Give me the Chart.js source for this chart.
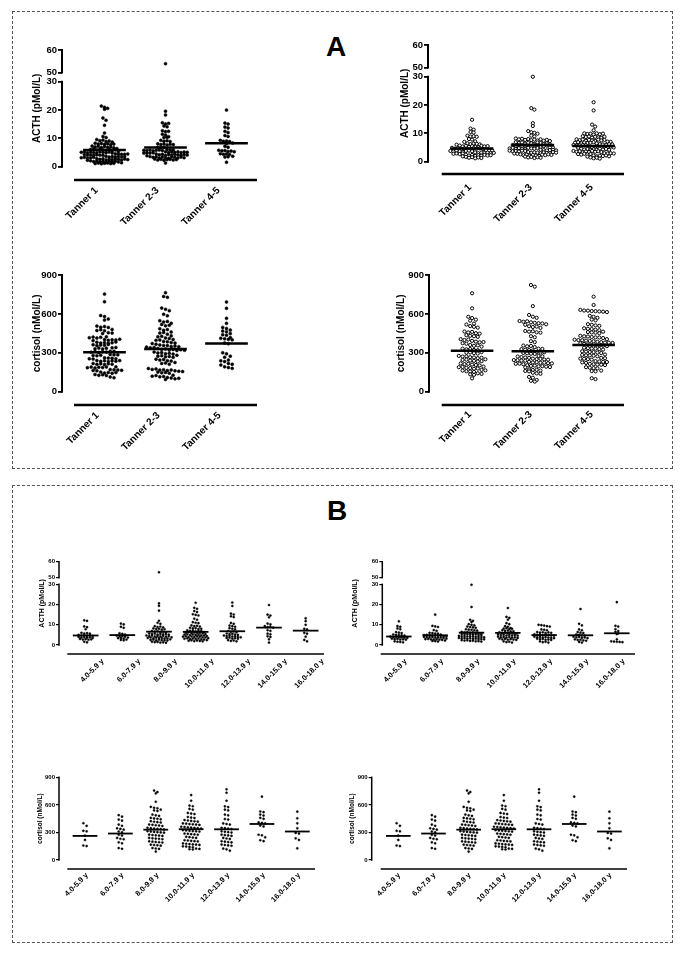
<!DOCTYPE html>
<html lang="en">
<head>
<meta charset="UTF-8" />
<title>ACTH and cortisol by Tanner stage and age</title>
<script src="https://cdn.jsdelivr.net/npm/chart.js@4"></script>
<style>
  body { margin: 0; background: #fff; font-family: "Liberation Sans", Arial, sans-serif; }
  #page { position: relative; width: 685px; height: 955px; }
  .box { position: absolute; border: 1px dashed #555; }
  .tag { position: absolute; font-weight: bold; font-size: 28px; line-height: 1; }
  canvas { position: absolute; }
</style>
</head>
<body>
<div id="page">
  <div class="box" style="left:12px;top:11px;width:659px;height:456px"></div>
  <div class="box" style="left:12px;top:485px;width:659px;height:456px"></div>
  <div class="tag" style="left:326px;top:33px">A</div>
  <div class="tag" style="left:327px;top:497px">B</div>
</div>
<script>
// categories + tick labels
const tannerCats = ['Tanner 1', 'Tanner 2-3', 'Tanner 4-5'];
const ageCats = ['4.0-5.9 y', '6.0-7.9 y', '8.0-9.9 y', '10.0-11.9 y', '12.0-13.9 y', '14.0-15.9 y', '16.0-18.0 y'];
const acthTicks = [0, 10, 20, 30, 50, 60];
const cortTicks = [0, 300, 600, 900];

// A, left: ACTH by Tanner stage
const acthTanL1 = [21.4, 21.0, 20.6, 20.3, 17.2, 16.4, 14.6, 11.9, 10.7, 10.3,
  9.6, 9.2, 9.4, 8.9, 9.1, 8.7, 8.3, 8.0, 8.2, 7.9, 8.1, 7.8, 8.0,
  7.3, 7.0, 7.2, 6.8, 7.1, 6.9, 7.0, 6.7, 6.4, 6.1, 6.3, 5.9, 6.2, 6.0, 5.8, 6.2, 5.7, 6.0,
  5.4, 5.1, 5.3, 4.9, 5.2, 5.0, 4.8, 5.3, 5.1, 4.9, 5.2, 4.8,
  4.6, 4.3, 4.5, 4.1, 4.4, 4.2, 4.0, 4.4, 4.2, 4.1, 4.5, 4.0,
  3.7, 3.4, 3.6, 3.2, 3.5, 3.3, 3.1, 3.6, 3.4, 3.2, 3.5, 3.3,
  2.9, 2.6, 2.8, 2.4, 2.7, 2.5, 2.3, 2.8, 2.6, 2.4, 2.7, 2.5,
  2.1, 1.8, 2.0, 1.7, 1.9, 1.6, 2.0, 1.8, 1.9, 1.7, 1.4, 1.1, 1.3, 1.0, 1.2, 1.3, 1.1, 1.2];
const acthTanL23 = [53.9, 19.6, 18.3, 15.5, 15.1, 15.3, 14.4, 14.1, 12.7, 12.4, 12.5, 11.5, 11.2, 10.6, 10.3, 10.4,
  9.3, 9.0, 9.2, 8.9, 8.1, 7.8, 8.0, 7.7, 7.9, 7.8, 6.9, 6.7, 6.8,
  6.1, 5.8, 6.0, 5.7, 5.9, 5.6, 6.0, 5.8, 5.9, 5.7,
  5.3, 5.0, 5.2, 4.8, 5.1, 4.9, 5.3, 5.0, 5.2, 4.8, 5.1, 4.9,
  4.5, 4.2, 4.4, 4.0, 4.3, 4.1, 3.9, 4.4, 4.2, 4.0, 4.3, 4.1,
  3.6, 3.3, 3.5, 3.1, 3.4, 3.2, 3.0, 3.5, 3.3, 3.1, 3.4, 3.2,
  2.7, 2.4, 2.6, 2.3, 2.5, 2.6, 2.4, 2.5, 1.3];
const acthTanL45 = [20.0, 15.4, 15.1, 14.0, 13.7, 12.5, 12.1, 11.0, 10.7,
  9.3, 9.0, 9.1, 8.9, 8.4, 8.2, 7.2, 6.9, 5.8, 5.6, 5.7, 5.4, 5.5, 5.3,
  4.6, 4.4, 4.5, 4.3, 3.7, 3.4, 3.5, 1.6];
const acthTanLMeans = [5.9, 6.8, 8.3];

// A, right: ACTH by Tanner stage
const acthTanR1 = [14.8, 11.7, 11.3, 10.5, 10.3, 9.2, 8.9, 9.0, 8.8, 8.0, 7.8, 7.2, 7.0,
  6.5, 6.2, 6.4, 6.0, 6.3, 6.1, 5.7, 5.4, 5.6, 5.2, 5.5, 5.3, 5.1, 5.6, 5.4, 5.5,
  4.9, 4.6, 4.8, 4.4, 4.7, 4.5, 4.3, 4.8, 4.6, 4.7, 4.5,
  4.1, 3.8, 4.0, 3.6, 3.9, 3.7, 3.5, 4.0, 3.8, 3.9, 3.7,
  3.3, 3.0, 3.2, 2.8, 3.1, 2.9, 2.7, 3.2, 3.0, 3.1, 2.9,
  2.5, 2.2, 2.4, 2.0, 2.3, 2.1, 1.9, 2.4, 2.2, 2.3, 1.7, 1.4, 1.6, 1.2, 1.5, 1.3];
const acthTanR23 = [30.0, 18.9, 18.4, 13.6, 12.6, 10.8, 10.4, 10.2, 9.9, 9.2, 8.9,
  8.2, 7.9, 8.1, 7.7, 8.0, 7.6, 7.8, 7.5, 7.9, 7.4, 7.7, 7.3,
  6.9, 6.6, 6.8, 6.4, 6.7, 6.5, 6.3, 6.8, 6.6, 6.2, 6.5, 6.1,
  5.9, 5.6, 5.8, 5.4, 5.7, 5.5, 5.3, 5.8, 5.6, 5.2, 5.5, 5.7,
  5.0, 4.7, 4.9, 4.5, 4.8, 4.6, 4.4, 4.9, 4.7, 4.6, 4.8, 5.0,
  4.2, 3.9, 4.1, 3.7, 4.0, 3.8, 3.6, 4.1, 3.9, 3.8, 4.2, 4.0,
  3.4, 3.1, 3.3, 2.9, 3.2, 3.0, 2.8, 3.3, 3.1, 3.0, 3.4, 3.2,
  2.6, 2.3, 2.5, 2.1, 2.4, 2.2, 2.0, 2.5, 2.3, 2.6, 2.4, 1.8, 1.5, 1.7, 1.3, 1.6, 1.4];
const acthTanR45 = [21.0, 18.1, 13.1, 12.4, 11.1, 10.0, 9.8, 9.9, 9.6, 10.0, 9.7, 9.9,
  9.0, 8.7, 8.9, 8.5, 8.8, 8.6, 8.4, 8.8, 7.9, 7.6, 7.8, 7.4, 7.7, 7.5, 7.3, 7.8, 7.5, 7.7,
  7.1, 6.7, 6.9, 6.5, 6.8, 6.6, 7.0, 6.7, 6.9, 6.5,
  6.2, 5.9, 6.1, 5.7, 6.0, 5.8, 6.2, 5.9, 6.1, 5.8,
  5.4, 5.1, 5.3, 4.9, 5.2, 5.0, 5.4, 5.1, 5.3, 5.0,
  4.6, 4.3, 4.5, 4.1, 4.4, 4.2, 4.6, 4.3, 4.5, 4.2,
  3.8, 3.5, 3.7, 3.3, 3.6, 3.4, 3.8, 3.5, 3.7, 3.4,
  3.0, 2.7, 2.9, 2.5, 2.8, 2.6, 3.0, 2.7, 2.9,
  2.2, 1.9, 2.1, 1.8, 2.0, 2.2, 1.9, 1.5, 1.2, 1.4, 1.1];
const acthTanRMeans = [4.7, 5.9, 5.5];

// A, left: cortisol by Tanner stage
const cortTanL1 = [753, 694, 587, 579, 561, 552, 506, 498, 503, 495, 480, 472, 478, 470, 455, 448, 452,
  423, 416, 421, 414, 419, 403, 396, 401, 394, 399, 405, 382, 375, 380, 373, 378, 384, 363, 356, 361, 358, 364,
  339, 332, 337, 330, 336, 341, 312, 305, 310, 303, 308, 311, 306,
  287, 280, 285, 278, 284, 281, 261, 254, 259, 252, 258, 255,
  241, 234, 239, 232, 238, 235, 240, 218, 211, 216, 209, 215, 212,
  192, 185, 190, 183, 189, 186, 191, 171, 164, 169, 162, 168, 165,
  151, 144, 149, 142, 148, 133, 126, 131, 124, 114, 108];
const cortTanL23 = [764, 735, 728, 645, 636, 625, 598, 585, 548, 537, 542, 528, 519, 508, 513, 486, 474, 479,
  461, 452, 457, 444, 431, 423, 427, 415, 411, 403, 396, 399, 388, 386, 379, 371, 375, 366, 361, 357,
  356, 349, 353, 344, 347, 338, 341, 333, 327, 330, 322, 326, 318, 324, 320,
  306, 299, 302, 293, 297, 290, 281, 274, 278, 269, 272, 265, 251, 244, 248, 239, 236,
  225, 218, 222, 212, 179, 172, 176, 167, 170, 163, 168, 161, 158, 151, 155, 146, 149, 143,
  127, 120, 124, 115, 118, 110, 106, 99, 103, 94];
const cortTanL45 = [692, 643, 566, 527, 496, 488, 475, 468, 462, 448, 440, 436,
  418, 412, 408, 404, 400, 376, 370, 300, 292, 274, 266, 244, 238, 232, 218, 212, 206, 192, 186, 180];
const cortTanLMeans = [305, 330, 372];

// A, right: cortisol by Tanner stage
const cortTanR1 = [759, 643, 578, 568, 556, 548, 525, 518, 506, 500, 494,
  464, 457, 461, 451, 448, 436, 431, 428, 423, 405, 399, 402, 392, 386, 381, 383, 374, 370,
  360, 354, 357, 348, 332, 327, 329, 322, 320, 306, 301, 303, 297, 294,
  276, 271, 273, 266, 264, 259, 262, 250, 245, 247, 240, 238, 233, 236,
  218, 213, 215, 209, 206, 203, 194, 189, 191, 184, 182, 177, 179,
  168, 163, 165, 158, 156, 153, 142, 137, 134, 130, 103];
const cortTanR23 = [823, 810, 660, 592, 578, 570, 545, 540, 543, 535, 531, 528, 526, 520, 516,
  505, 499, 502, 492, 468, 463, 466, 458, 455, 428, 420, 390, 382, 356, 350, 353, 344,
  332, 328, 330, 324, 321, 318, 306, 302, 304, 299, 296, 293, 291, 276, 271, 273, 267, 264, 261,
  255, 251, 253, 248, 247, 244, 243, 240, 239, 230, 226, 228, 223, 224, 220, 218, 215, 216, 212,
  204, 199, 201, 196, 197, 193, 190, 188, 172, 168, 169, 163, 160, 157,
  146, 141, 138, 114, 108, 90, 84, 78];
const cortTanR45 = [733, 669, 631, 626, 625, 622, 621, 619, 617, 614, 585, 578, 570, 556, 550, 521, 516, 511, 508,
  489, 485, 483, 478, 474, 463, 460, 457, 455, 451, 431, 427, 426, 422, 419, 418, 414,
  405, 401, 398, 397, 394, 392, 389, 385, 382, 379, 378, 376, 373, 369,
  364, 361, 359, 358, 355, 351, 339, 336, 333, 332, 329, 325,
  312, 309, 306, 305, 302, 298, 287, 284, 281, 280, 277, 273,
  261, 258, 255, 254, 251, 247, 236, 233, 230, 229, 226, 222,
  215, 212, 209, 208, 205, 189, 185, 182, 180, 163, 159, 157, 104, 97];
const cortTanRMeans = [315, 312, 360];

// B, left: ACTH by age
const acthAgeL4 = [12.2, 11.9, 9.2, 8.8, 7.8, 6.0, 5.7, 5.9, 5.6, 5.0, 4.7, 4.9, 4.6, 4.8, 4.5,
  4.0, 3.7, 3.9, 3.6, 3.8, 3.5, 3.0, 2.7, 2.9, 2.6, 2.8, 1.6, 1.3];
const acthAgeL6 = [10.6, 10.2, 9.0, 8.5, 5.8, 5.5, 5.2, 4.6, 4.3, 4.4, 4.1, 3.7, 3.4, 3.5, 3.2, 2.7, 2.5, 2.3];
const acthAgeL8 = [53.4, 20.6, 19.4, 17.0, 12.0, 11.0, 10.5, 9.3, 8.9, 9.1, 8.7, 8.2, 7.9, 8.0, 7.6, 7.8,
  6.9, 6.6, 6.8, 6.4, 6.5, 6.2, 5.7, 5.4, 5.6, 5.2, 5.5, 5.3, 5.4, 5.1, 4.7, 4.4, 4.6, 4.2, 4.5, 4.3, 4.5, 4.1, 4.3,
  3.8, 3.5, 3.7, 3.3, 3.6, 3.4, 3.5, 3.2, 3.2, 2.8, 2.5, 2.7, 2.3, 2.6, 2.4, 2.3, 2.2, 1.6, 1.4, 1.5, 1.2, 1.3, 1.1];
const acthAgeL10 = [20.9, 18.4, 17.9, 16.8, 16.3, 15.2, 14.9, 14.6, 13.0, 12.5, 11.3, 11.0, 10.8, 9.7, 9.3, 9.5, 9.1,
  8.5, 8.2, 8.3, 7.9, 8.0, 7.3, 7.0, 7.2, 6.8, 7.1, 6.9, 6.4, 6.1, 6.3, 5.9, 6.2, 6.0, 6.0, 5.8,
  5.4, 5.1, 5.3, 4.9, 5.2, 5.0, 5.1, 4.8, 4.7, 4.4, 4.1, 4.3, 3.9, 4.2, 4.0, 4.2, 4.1, 3.8, 3.7,
  3.4, 3.1, 3.3, 2.9, 3.2, 3.0, 3.2, 2.8, 2.7, 2.4, 2.1, 2.3, 1.9, 2.2, 2.0, 1.8];
const acthAgeL12 = [21.0, 19.3, 15.5, 15.1, 14.2, 13.8, 10.9, 10.5, 9.6, 9.3, 9.0, 8.3, 8.0, 7.8, 6.9, 6.5, 6.7, 6.3,
  5.7, 5.4, 5.5, 5.2, 5.0, 4.7, 4.4, 4.6, 4.2, 4.3, 4.0, 3.8, 3.5, 3.6, 3.2, 3.4, 3.1, 2.4, 2.0, 2.2, 1.8];
const acthAgeL14 = [19.8, 15.0, 14.6, 13.7, 10.6, 10.2, 9.3, 8.8, 9.0, 8.6, 7.3, 7.0, 5.6, 5.3, 4.3, 4.0, 2.8, 1.2];
const acthAgeL16 = [13.2, 11.8, 10.0, 8.0, 7.7, 6.0, 5.6, 4.1, 2.5, 1.8];
const acthAgeLMeans = [4.7, 4.9, 6.6, 6.5, 6.8, 8.6, 7.1];

// B, right: ACTH by age
const acthAgeR4 = [11.7, 9.4, 9.0, 8.2, 7.8, 6.4, 6.1, 5.9, 5.2, 5.0, 4.9, 4.8, 4.6, 4.1, 3.9, 4.0, 3.7, 3.8, 3.6, 3.5,
  3.1, 2.9, 3.0, 2.7, 2.8, 2.6, 1.8, 1.6, 1.5, 1.3];
const acthAgeR6 = [15.0, 9.5, 9.2, 8.9, 7.4, 7.0, 6.0, 5.9, 5.7, 5.6, 5.1, 4.9, 5.0, 4.8, 4.7, 4.8, 4.6, 4.5,
  4.2, 4.0, 4.1, 3.9, 3.8, 3.9, 3.7, 3.6, 3.6, 3.5, 3.1, 2.9, 3.0, 2.8, 2.7, 2.8, 2.6, 2.5, 2.2, 2.0, 1.9, 1.7];
const acthAgeR8 = [29.8, 18.8, 12.5, 11.9, 11.4, 10.3, 10.0, 9.7, 9.1, 8.9, 8.7, 8.5, 7.8, 7.6, 7.5, 7.3, 7.1,
  6.5, 6.3, 6.4, 6.1, 6.2, 6.0, 5.9, 5.6, 5.4, 5.5, 5.3, 5.3, 5.1, 5.2, 5.0, 4.9,
  4.5, 4.3, 4.4, 4.2, 4.3, 4.1, 4.0, 4.0, 3.9, 3.8, 3.5, 3.3, 3.4, 3.2, 3.3, 3.0, 3.1, 3.0, 2.9, 2.8,
  2.4, 2.2, 2.3, 2.0, 2.1, 1.8, 1.9, 1.7];
const acthAgeR10 = [18.3, 13.9, 13.4, 12.5, 10.8, 10.3, 9.3, 9.0, 8.4, 8.1, 8.3, 7.9, 8.0, 7.3, 7.0, 7.1, 6.7, 6.8,
  6.3, 6.0, 6.2, 5.8, 6.1, 5.9, 5.7, 5.2, 4.9, 5.1, 4.7, 5.0, 4.8, 4.9, 4.6,
  4.1, 3.8, 4.0, 3.6, 3.9, 3.7, 3.8, 3.5, 3.1, 2.8, 3.0, 2.6, 2.9, 2.7, 2.5, 1.8, 1.4, 1.6, 1.2];
const acthAgeR12 = [10.0, 9.8, 9.6, 9.3, 9.1, 7.7, 7.5, 7.3, 6.4, 6.1, 6.3, 5.9, 6.2, 6.0, 5.3, 5.0, 5.2, 4.8, 5.1, 4.9,
  4.7, 4.6, 4.1, 3.8, 4.0, 3.6, 3.9, 3.7, 3.5, 3.4, 3.1, 2.9, 3.0, 2.6, 2.7, 2.5, 1.8, 1.4, 1.6, 1.2];
const acthAgeR14 = [17.8, 10.5, 9.7, 7.7, 7.3, 6.4, 6.1, 5.9, 5.2, 5.0, 4.8, 4.6, 4.1, 3.8, 4.0, 3.6, 3.7, 3.4,
  2.8, 2.5, 2.6, 2.3, 2.1, 1.5, 1.2];
const acthAgeR16 = [21.2, 9.5, 9.1, 7.8, 6.9, 6.5, 5.8, 5.4, 2.8, 1.8, 1.7, 1.6, 1.5, 1.4];
const acthAgeRMeans = [4.2, 4.8, 6.1, 6.0, 4.9, 4.8, 5.8];

// B: cortisol by age (left and right panels show the same values)
const cortAge4 = [400, 372, 318, 312, 265, 218, 158, 152];
const cortAge6 = [488, 472, 440, 428, 385, 372, 345, 338, 330, 310, 300, 275, 266, 240, 231, 226, 192, 182, 130, 122];
const cortAge8 = [756, 740, 725, 634, 578, 568, 562, 548, 540, 533, 494, 486, 480, 458, 452, 449, 443,
  422, 416, 412, 408, 386, 383, 378, 375, 370, 350, 346, 343, 340, 337, 333, 313, 309, 306, 303, 300, 297,
  276, 272, 269, 266, 262, 240, 236, 233, 230, 226, 203, 199, 196, 193, 190, 167, 163, 160, 156, 130, 125, 121, 92];
const cortAge10 = [707, 645, 592, 585, 556, 548, 512, 505, 500, 468, 462, 457, 434, 430, 425, 421, 417,
  398, 395, 391, 388, 385, 382, 362, 359, 356, 352, 349, 346, 343, 325, 321, 318, 315, 312, 309,
  288, 285, 281, 278, 275, 252, 248, 244, 240, 215, 212, 208, 205, 202, 180, 177, 173, 170, 167, 164,
  149, 146, 142, 139, 124, 121, 117, 114];
const cortAge12 = [769, 732, 645, 584, 576, 548, 540, 494, 486, 446, 440, 398, 392, 386, 350, 346, 341, 337,
  312, 307, 303, 299, 276, 271, 267, 263, 240, 234, 229, 204, 199, 195, 191, 168, 163, 159, 155, 124, 116, 101];
const cortAge14 = [689, 528, 520, 494, 484, 458, 448, 410, 404, 398, 375, 365, 275, 268, 247, 215, 205];
const cortAge16 = [526, 453, 399, 345, 295, 288, 236, 218, 127];
const cortAgeMeans = [262, 288, 330, 335, 334, 392, 310];

const FONT = '"Liberation Sans", Arial, sans-serif';

// y axis with a break between 30 and 50 (prism style)
const BRK = { lo: 30, hi: 50, top: 60, f1: 0.728, f2: 0.808 };
function brokenDec(v) {
  if (v <= BRK.lo) return v / BRK.lo * BRK.f1;
  if (v >= BRK.hi) return BRK.f2 + (v - BRK.hi) / (BRK.top - BRK.hi) * (1 - BRK.f2);
  return BRK.f1 + (v - BRK.lo) / (BRK.hi - BRK.lo) * (BRK.f2 - BRK.f1);
}
function brokenVal(d) {
  if (d <= BRK.f1) return d / BRK.f1 * BRK.lo;
  if (d >= BRK.f2) return BRK.hi + (d - BRK.f2) / (1 - BRK.f2) * (BRK.top - BRK.hi);
  return BRK.lo + (d - BRK.f1) / (BRK.f2 - BRK.f1) * (BRK.hi - BRK.lo);
}
class BrokenScale extends Chart.LinearScale {
  static id = 'broken';
  static defaults = {};
  getPixelForValue(v) { return this.getPixelForDecimal(brokenDec(v)); }
  getValueForPixel(p) { return brokenVal(this.getDecimalForPixel(p)); }
}
Chart.register(BrokenScale);

// y axis line (with gap) + the separate x axis bar
const gpAxes = {
  id: 'gpAxes',
  afterDraw(chart, args, o) {
    const { ctx, chartArea: a, scales: { x, y } } = chart;
    ctx.save();
    ctx.strokeStyle = '#000';
    ctx.lineWidth = o.yw;
    o.segs.forEach(([v0, v1]) => {
      ctx.beginPath();
      ctx.moveTo(a.left, y.getPixelForValue(v0) + o.yw / 2);
      ctx.lineTo(a.left, y.getPixelForValue(v1) - o.yw / 2);
      ctx.stroke();
    });
    ctx.lineWidth = o.xw;
    const ly = a.bottom + o.dy;
    ctx.beginPath();
    ctx.moveTo(x.getPixelForValue(-0.5), ly);
    ctx.lineTo(x.getPixelForValue(o.n - 0.5), ly);
    ctx.stroke();
    ctx.restore();
  }
};

// prism-like scatter layout: dots binned into pixel rows, each row centred.
// returns x offsets in px
function dotRows(py, h, c) {
  const order = py.map((p, i) => i).sort((a, b) => py[a] - py[b]);
  const xs = new Array(py.length).fill(0);
  let row = [], start = null;
  const flush = () => {
    row.sort((a, b) => a - b);
    row.forEach((i, k) => { xs[i] = (k - (row.length - 1) / 2) * c; });
    row = [];
  };
  order.forEach(i => {
    if (start === null || py[i] - start >= h) { flush(); start = py[i]; }
    row.push(i);
  });
  flush();
  return xs;
}

const styleA = { tick: 9.5, title: 10, cat: 10, yLine: 2, xLine: 2.5, tickW: 1.8, tickLen: 4, meanW: 2.5, xh: 95 };
const styleB = { tick: 6, title: 7, cat: 7.5, yLine: 1.5, xLine: 1.6, tickW: 1.2, tickLen: 3, meanW: 1.8, xh: 70 };
const dotActhA = { r: 1.5, bw: 0.5, fill: '#000', h: 2.6, c: 3.1 };
const dotActhOpen = { r: 1.6, bw: 1, fill: '#fff', h: 2.7, c: 3.1 };
const dotCortA = { r: 1.5, bw: 0.5, fill: '#000', h: 3.4, c: 3.8 };
const dotCortOpen = { r: 1.6, bw: 1, fill: '#fff', h: 3.4, c: 3.8 };
const dotActhB = { r: 1.1, bw: 0.4, fill: '#000', h: 2.0, c: 2.8 };
const dotCortB = { r: 1.1, bw: 0.4, fill: '#000', h: 2.8, c: 3.3 };

function panel(p) {
  const s = p.style, dot = p.dot, n = p.cats.length;
  const left = Math.round(p.titleX - 0.6 * s.title);
  const top = Math.round(p.yTop - 12);
  const W = Math.round(p.lineX2 + 12 - left);
  const H = Math.round(p.yZero - top + s.xh);
  const yw = p.axisX - left;
  const ppu = (p.lineX2 - p.lineX1) / n;
  const xmin = -0.5 - (p.lineX1 - p.axisX) / ppu;

  const cv = document.createElement('canvas');
  cv.width = W; cv.height = H;
  cv.style.left = left + 'px'; cv.style.top = top + 'px';
  document.getElementById('page').appendChild(cv);

  const meanSets = p.means.map((m, i) => ({
    data: [{ x: i - 0.35, y: m }, { x: i + 0.35, y: m }],
    showLine: true, borderColor: '#000', borderWidth: s.meanW, pointRadius: 0, clip: false
  }));
  const dotSets = p.groups.map((g, i) => ({
    data: g.map(v => ({ x: i, y: v })),
    pointRadius: dot.r, pointBorderWidth: dot.bw,
    pointBackgroundColor: dot.fill, pointBorderColor: '#000', clip: false
  }));
  const font = size => ({ family: FONT, size: size, weight: 'bold' });

  const chart = new Chart(cv, {
    type: 'scatter',
    data: { datasets: meanSets.concat(dotSets) },
    options: {
      responsive: false, animation: false, events: [],
      layout: { padding: { left: 0, top: p.yTop - top, right: W - (p.lineX2 - left), bottom: 0 } },
      plugins: {
        legend: { display: false }, tooltip: { enabled: false },
        gpAxes: { yw: s.yLine, xw: s.xLine, dy: p.lineY - p.yZero, n: n,
          segs: p.broken ? [[0, 30], [50, 60]] : [[0, p.ticks[p.ticks.length - 1]]] }
      },
      scales: {
        x: {
          type: 'linear', min: xmin, max: n - 0.5,
          grid: { display: false }, border: { display: false },
          afterBuildTicks: sc => { sc.ticks = p.cats.map((c, i) => ({ value: i })); },
          afterFit: sc => {
            sc.height = H - (p.yZero - top);
            sc.paddingLeft = 0; sc.paddingRight = 0; sc.paddingTop = 0; sc.paddingBottom = 0;
          },
          ticks: { autoSkip: false, minRotation: 45, maxRotation: 45, labelOffset: p.labelOffset,
            padding: p.catPad, color: '#000', font: font(s.cat), callback: v => p.cats[v] }
        },
        y: {
          type: p.broken ? 'broken' : 'linear', min: 0, max: p.ticks[p.ticks.length - 1],
          afterBuildTicks: sc => { sc.ticks = p.ticks.map(v => ({ value: v })); },
          afterFit: sc => { sc.width = yw; sc.paddingTop = 0; sc.paddingBottom = 0; },
          border: { display: false },
          grid: { display: true, drawOnChartArea: false, drawTicks: true, tickLength: s.tickLen,
            color: '#000', lineWidth: s.tickW },
          ticks: { padding: 1, color: '#000', font: font(s.tick) },
          title: { display: true, text: p.title, color: '#000', padding: 0, font: font(p.titleSize || s.title) }
        }
      }
    },
    plugins: [gpAxes]
  });

  // spread the dots sideways now that the scales exist
  const xs = chart.scales.x, ys = chart.scales.y;
  const ppx = xs.getPixelForValue(1) - xs.getPixelForValue(0);
  p.groups.forEach((g, i) => {
    const off = dotRows(g.map(v => ys.getPixelForValue(v)), dot.h, dot.c);
    chart.data.datasets[meanSets.length + i].data = g.map((v, k) => ({ x: i + off[k] / ppx, y: v }));
  });
  chart.update('none');
}

const acthTitle = 'ACTH (pMol/L)', cortTitle = 'cortisol (nMol/L)';

panel({ cats: tannerCats, groups: [acthTanL1, acthTanL23, acthTanL45], means: acthTanLMeans,
  broken: true, ticks: acthTicks, title: acthTitle, style: styleA, dot: dotActhA,
  axisX: 62, yTop: 50, yZero: 166.7, lineY: 180, lineX1: 74, lineX2: 257, titleX: 37, labelOffset: -8, catPad: 10 });
panel({ cats: tannerCats, groups: [acthTanR1, acthTanR23, acthTanR45], means: acthTanRMeans,
  broken: true, ticks: acthTicks, title: acthTitle, style: styleA, dot: dotActhOpen,
  axisX: 428, yTop: 45, yZero: 161.7, lineY: 174, lineX1: 441.7, lineX2: 624, titleX: 405, labelOffset: -2, catPad: 12 });
panel({ cats: tannerCats, groups: [cortTanL1, cortTanL23, cortTanL45], means: cortTanLMeans,
  broken: false, ticks: cortTicks, title: cortTitle, style: styleA, dot: dotCortA,
  axisX: 62, yTop: 275, yZero: 391.7, lineY: 405, lineX1: 74, lineX2: 257, titleX: 37, labelOffset: -7, catPad: 10 });
panel({ cats: tannerCats, groups: [cortTanR1, cortTanR23, cortTanR45], means: cortTanRMeans,
  broken: false, ticks: cortTicks, title: cortTitle, style: styleA, dot: dotCortOpen,
  axisX: 429, yTop: 275, yZero: 391.7, lineY: 405, lineX1: 441.7, lineX2: 624, titleX: 401, labelOffset: -2, catPad: 9 });

panel({ cats: ageCats, groups: [acthAgeL4, acthAgeL6, acthAgeL8, acthAgeL10, acthAgeL12, acthAgeL14, acthAgeL16],
  means: acthAgeLMeans, broken: true, ticks: acthTicks, title: acthTitle, style: styleB, dot: dotActhB,
  axisX: 59, yTop: 561.7, yZero: 645, lineY: 654, lineX1: 67.3, lineX2: 324, titleX: 41.7, labelOffset: 17, catPad: 4 });
panel({ cats: ageCats, groups: [acthAgeR4, acthAgeR6, acthAgeR8, acthAgeR10, acthAgeR12, acthAgeR14, acthAgeR16],
  means: acthAgeRMeans, broken: true, ticks: acthTicks, title: acthTitle, style: styleB, dot: dotActhB,
  axisX: 382.3, yTop: 561.7, yZero: 645, lineY: 654, lineX1: 380.7, lineX2: 635, titleX: 355, labelOffset: 7, catPad: 4 });
panel({ cats: ageCats, groups: [cortAge4, cortAge6, cortAge8, cortAge10, cortAge12, cortAge14, cortAge16],
  means: cortAgeMeans, broken: false, ticks: cortTicks, title: cortTitle, titleSize: 6.5, style: styleB, dot: dotCortB,
  axisX: 59, yTop: 777.3, yZero: 860, lineY: 869, lineX1: 67.3, lineX2: 315, titleX: 40, labelOffset: 2, catPad: 3 });
panel({ cats: ageCats, groups: [cortAge4, cortAge6, cortAge8, cortAge10, cortAge12, cortAge14, cortAge16],
  means: cortAgeMeans, broken: false, ticks: cortTicks, title: cortTitle, titleSize: 6.5, style: styleB, dot: dotCortB,
  axisX: 371.7, yTop: 777.3, yZero: 860, lineY: 869, lineX1: 380.7, lineX2: 627, titleX: 351.7, labelOffset: 1, catPad: 3 });
</script>
</body>
</html>
